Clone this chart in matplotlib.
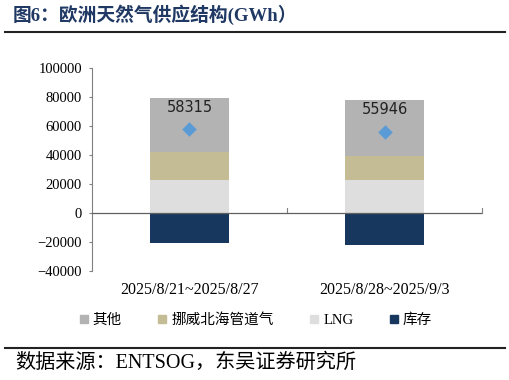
import numpy as np
import matplotlib.pyplot as plt
from matplotlib.lines import Line2D

plt.rcParams['font.family'] = ['Liberation Serif', 'Noto Sans CJK SC']

# ---------------- datos ----------------
categorias = ["2025/8/21~2025/8/27", "2025/8/28~2025/9/3"]
lng = [23000, 23000]
noruega = [19300, 16500]
otros = [37000, 38400]
almacen = [-21000, -22100]
neto = [58315, 55946]
series = ["其他", "挪威北海管道气", "LNG", "库存"]
colores = ["#b3b3b3", "#c4bc95", "#dedede", "#17375e"]

fig = plt.figure(figsize=(5.1, 3.8), dpi=100)
ax = fig.add_axes([0.18, 0.287, 0.766, 0.533])

x = np.arange(len(categorias))
w = 0.405
ax.bar(x, lng, w, color=colores[2], zorder=2)
ax.bar(x, noruega, w, bottom=lng, color=colores[1], zorder=2)
base = np.array(lng) + np.array(noruega)
ax.bar(x, otros, w, bottom=base, color=colores[0], zorder=2)
ax.bar(x, almacen, w, color=colores[3], zorder=2)
ax.scatter(x, neto, marker="D", s=55, color="#5b9bd5", zorder=3, linewidths=0)
tops = base + np.array(otros)
for xi, t, v in zip(x, tops, neto):
    ax.text(xi, t - 1200, str(v), ha="center", va="top", fontsize=10.5,
            family="DejaVu Sans", color="#222222", zorder=4)

ax.set_xlim(-0.5, 1.5)
ax.set_ylim(-40000, 100000)
ax.set_yticks(np.arange(-40000, 100001, 20000))
ax.tick_params(axis="y", direction="out", length=2, color="#808080", labelsize=10.5, pad=5)
ax.set_xticks([])
for s in ["top", "right", "bottom"]:
    ax.spines[s].set_visible(False)
ax.spines["left"].set_color("#808080")
ax.axhline(0, color="#606060", lw=0.9, zorder=3)
for xb in [0.5, 1.5]:
    ax.plot([xb, xb], [0, 3500], color="#808080", lw=0.8, clip_on=False)
for xi, c in zip(x, categorias):
    ax.text(xi, -47500, c, ha="center", va="top", fontsize=11.5)

# ---------------- leyenda ----------------
handles = [Line2D([], [], marker="s", ls="", color=c, markersize=5.5) for c in colores]
fig.legend(handles, series, loc="center", bbox_to_anchor=(0.497, 0.158), ncol=4,
           frameon=False, handletextpad=0.0, columnspacing=2.2, handlelength=1.2,
           prop={"family": ["Liberation Serif", "Noto Sans CJK SC"], "size": 10.5})

# ---------------- titulo y fuente ----------------
fig.text(0.025, 0.96, "图6：欧洲天然气供应结构(GWh）", fontsize=13.5, fontweight="bold",
         color="#1f3864", va="center", ha="left")
fig.add_artist(Line2D([0.01, 0.99], [0.915, 0.915], color="#222222", lw=1.5))
fig.add_artist(Line2D([0.01, 0.99], [0.085, 0.085], color="#222222", lw=1.5))
fig.text(0.03, 0.045, "数据来源：ENTSOG，东吴证券研究所", fontsize=14.5, va="center", ha="left")

fig.savefig("out.png", dpi=100)
